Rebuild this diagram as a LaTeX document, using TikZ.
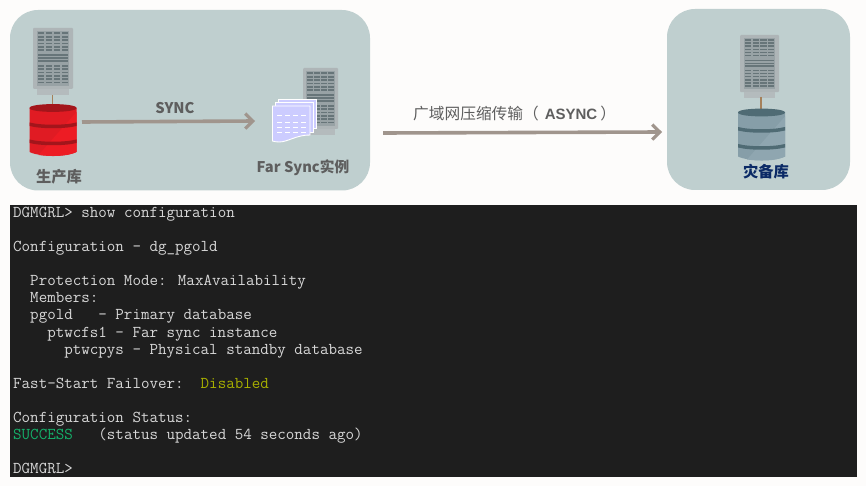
\documentclass[tikz,border=0pt]{standalone}
\usepackage{fontspec}
\setmainfont{Liberation Sans}
\newfontfamily\cjk{Noto Sans CJK SC}
\usetikzlibrary{arrows.meta}
\definecolor{pagebg}{HTML}{FDFCFB}
\definecolor{panelbg}{HTML}{BFCFCF}
\definecolor{termbg}{HTML}{1E1E1E}
\definecolor{termtxt}{HTML}{D8D8D8}
\definecolor{flowcol}{HTML}{A0958D}
\definecolor{labelcol}{HTML}{5E5E5E}
\definecolor{stemcol}{HTML}{A5805A}
\definecolor{doccol}{HTML}{CCCCFF}
\definecolor{rackbody}{HTML}{AEB5B7}
\definecolor{rackbase}{HTML}{B4BBBD}
\definecolor{rackface}{HTML}{98A2A5}
\definecolor{rackdark}{HTML}{677579}
\definecolor{primbody}{HTML}{E01B23}
\definecolor{primlight}{HTML}{ED1C24}
\definecolor{primdark}{HTML}{A3151B}
\definecolor{stbybody}{HTML}{869EA8}
\definecolor{stbylight}{HTML}{8FA6B0}
\definecolor{stbydark}{HTML}{4F6B74}
\definecolor{stbytext}{HTML}{0B2A66}
\tikzset{
  panel/.style={fill=panelbg,rounded corners=28pt},
  flow/.style={draw=flowcol,line width=3.6pt,-{Straight Barb[length=7.5pt,width=15pt,line width=3.2pt]}},
  stem/.style={draw=stemcol,line width=1.5pt},
  caption/.style={font=\cjk\bfseries\fontsize{15.3}{17}\selectfont,text=labelcol,inner sep=0pt},
  termline/.style={anchor=base west,inner sep=0pt,text=termtxt,font=\ttfamily\fontsize{16.55}{18}\selectfont},
  page/.style={fill=doccol,draw=white,line width=.9pt},
  pics/serverrack/.style={code={
    \fill[rackbody,rounded corners=1pt] (0,0) rectangle (40,61);
    \fill[rackbase] (4,61) rectangle (36,67);
    \fill[rackface] (3.7,3) rectangle (36,58);
    \foreach \row in {0,...,5}{
      \foreach \col in {5,13,21,29}{
        \fill[rackdark] (\col,4.5+3.35*\row) rectangle ++(6.2,1.7);
        \fill[rackdark] (\col,37+3.35*\row) rectangle ++(6.2,1.7);
      }
    }
    \foreach \row in {26.5,29.5,32.5}{\fill[rackdark] (5,\row) rectangle (35.2,\row+1.7);}
  }},
  pics/dbdrum/.style n args={3}{code={
    \fill[#1] (0,4) -- (0,48) .. controls (10,53) and (37,53) .. (47,48) -- (47,4) -- cycle;
    \fill[#2] (47,8) -- (47,48) .. controls (37,53) and (20,52.5) .. (9,51) -- cycle;
    \fill[#3] (0,4) .. controls (0,-1.2) and (47,-1.2) .. (47,4) .. controls (47,9.2) and (0,9.2) .. (0,4) -- cycle;
    \fill[#3] (0,18.5) .. controls (12,21.5) and (35,21.5) .. (47,18.5) -- (47,22) .. controls (35,25) and (12,25) .. (0,22) -- cycle;
    \fill[#3] (0,35.5) .. controls (12,38.5) and (35,38.5) .. (47,35.5) -- (47,39) .. controls (35,42) and (12,42) .. (0,39) -- cycle;
  }},
}
\begin{document}
\begin{tikzpicture}[x=1pt,y=-1pt]
\fill[pagebg] (0,0) rectangle (866,486);
\useasboundingbox (0,0) rectangle (866,486);
% panels
\fill[panel] (10,10) rectangle (370,190.5);
\fill[panel] (667,9) rectangle (850,190);
% primary site
\pic at (33,28) {serverrack};
\coordinate (primtop) at (52.7,95);\coordinate (primdb) at (52.7,105);
\draw[stem] (primtop)--(primdb);
\pic at (29.5,104) {dbdrum={primbody}{primlight}{primdark}};
\node[caption] (primlabel) at (59,177) {生产库};
% far sync site
\pic[xscale=.875] at (303,68) {serverrack};
\draw[page] (278,99) rectangle (316,128);
\draw[page] (275,102.5) rectangle (313,132);
\draw[page] (272.5,106) -- (310,106) -- (310,135) .. controls (296,135) and (288,142) .. (279,142) .. controls (276,142) and (274,141.5) .. (272.5,141) -- cycle;
\foreach \row in {115,122,127,132}{\draw[white,line width=.7pt,dash pattern=on 5pt off 3pt] (277,\row)--(306,\row);}
\node[caption,font=\cjk\bfseries\fontsize{14.7}{17}\selectfont] (farlabel) at (303,167.5) {Far Sync实例};
% standby site
\pic[yscale=.935,xscale=.975] at (740,35) {serverrack};
\coordinate (stbytop) at (761,97);\coordinate (stbydb) at (761,109);
\draw[stem] (stbytop)--(stbydb);
\pic at (738,108.5) {dbdrum={stbybody}{stbylight}{stbydark}};
\node[caption,text=stbytext] (stbylabel) at (766,172) {灾备库};
% transport
\coordinate (syncfrom) at (82,122);\coordinate (syncto) at (255,121);
\draw[flow] (syncfrom)--(syncto);
\node[caption,font=\cjk\bfseries\fontsize{14.7}{16}\selectfont] (synclabel) at (175,108.5) {SYNC};
\coordinate (asyncfrom) at (383,133);\coordinate (asyncto) at (662,132);
\draw[flow] (asyncfrom)--(asyncto);
\node[caption,anchor=west,font=\fontsize{15}{17}\selectfont] (asynclabel) at (413,114) {{\cjk\fontsize{15.7}{17}\selectfont 广域网压缩传输（}\hspace{6pt}\textbf{ASYNC}\hspace{3pt}{\cjk\fontsize{15.7}{17}\selectfont ）}};
% terminal
\fill[termbg] (10,205) rectangle (857,477);
\node[termline] (t0) at (13,217.5) {DGMGRL> show configuration};
\node[termline] (t2) at (13,251.6) {Configuration - dg\_pgold};
\node[termline] (t4) at (13,285.8) {~~Protection Mode: MaxAvailability};
\node[termline] (t5) at (13,302.8) {~~Members:};
\node[termline] (t6) at (13,319.9) {~~pgold~~~- Primary database};
\node[termline] (t7) at (13,337) {~~~~ptwcfs1 - Far sync instance};
\node[termline] (t8) at (13,354.1) {~~~~~~ptwcpys - Physical standby database};
\node[termline] (t10) at (13,388.2) {Fast-Start Failover:~~\textcolor[HTML]{A8B000}{Disabled}};
\node[termline] (t12) at (13,422.3) {Configuration Status:};
\node[termline] (t13) at (13,439.4) {\textcolor[HTML]{14B26B}{SUCCESS}~~~(status updated 54 seconds ago)};
\node[termline] (t15) at (13,473.5) {DGMGRL>};
\end{tikzpicture}
\end{document}
